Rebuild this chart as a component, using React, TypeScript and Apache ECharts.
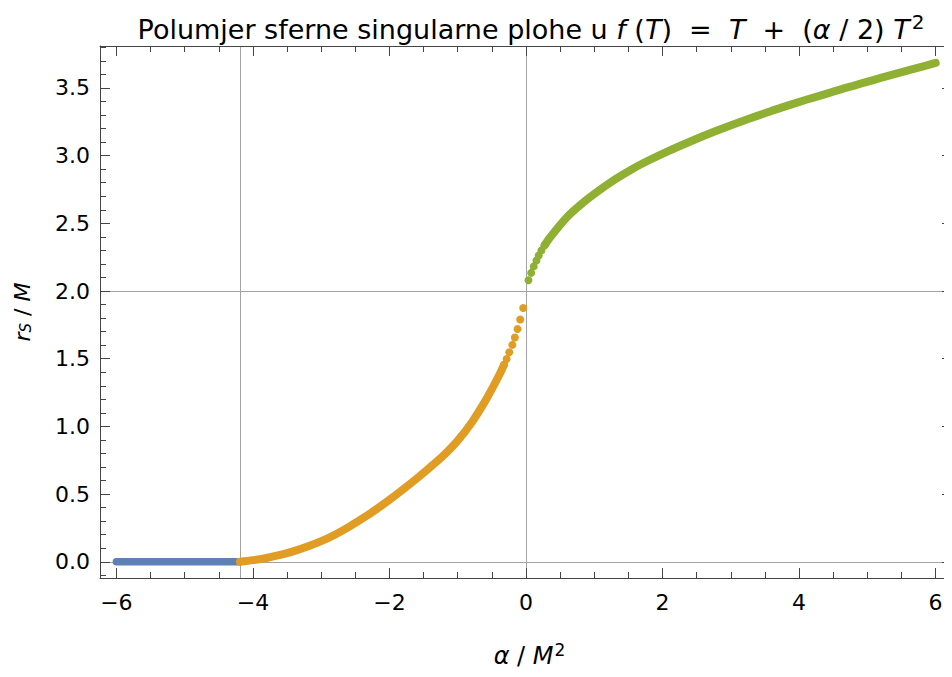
import React, { useEffect, useRef } from "react";
import * as echarts from "echarts";

// ---- data ----
const X_MIN = -6.24;
const X_MAX = 6.24;
const Y_MIN = -0.12;
const Y_MAX = 3.81;

const blueX = [-6, -5.5, -5, -4.5, -4.19];
const blueY = [0, 0, 0, 0, 0];

const orangeLineX = [-4.19, -4.0, -3.8, -3.6, -3.4, -3.2, -3.0, -2.8, -2.6, -2.4, -2.2, -2.0, -1.8, -1.6, -1.4, -1.2, -1.0, -0.8, -0.6, -0.5, -0.4, -0.36, -0.323];
const orangeLineY = [0, 0.012, 0.028, 0.05, 0.078, 0.112, 0.152, 0.2, 0.256, 0.318, 0.385, 0.458, 0.535, 0.615, 0.7, 0.79, 0.895, 1.025, 1.185, 1.275, 1.372, 1.413, 1.454];

const orangeDotX = [-0.041, -0.085, -0.124, -0.163, -0.2, -0.245, -0.284, -0.323];
const orangeDotY = [1.875, 1.789, 1.72, 1.656, 1.602, 1.548, 1.498, 1.454];

const greenDotX = [0.036, 0.076, 0.113, 0.153, 0.186, 0.225, 0.273];
const greenDotY = [2.079, 2.134, 2.182, 2.225, 2.263, 2.3, 2.338];

const greenLineX = [0.273, 0.346, 0.589, 0.832, 1.074, 1.316, 1.559, 1.8, 2.044, 2.287, 2.528, 2.771, 3.014, 3.255, 3.498, 3.741, 3.983, 4.225, 4.468, 4.71, 4.953, 5.196, 5.437, 5.68, 6.0];
const greenLineY = [2.338, 2.392, 2.54, 2.651, 2.744, 2.828, 2.902, 2.966, 3.025, 3.079, 3.13, 3.18, 3.227, 3.271, 3.313, 3.355, 3.394, 3.431, 3.468, 3.505, 3.539, 3.574, 3.607, 3.641, 3.685];

const gridXValues = [-4.19, 0];
const gridYValues = [0, 2];

const BLUE = "#5E81B5";
const ORANGE = "#E19C24";
const GREEN = "#8FB032";
const FRAME = "#444";
const GRID = "#a3a3a3";
const FONT = "DejaVu Sans";

const zip = (xs: number[], ys: number[]) => xs.map((x, i) => [x, ys[i]]);
const minus = (s: string) => s.replace("-", "\u2212");

export default function App() {
  const ref = useRef<HTMLDivElement>(null);
  useEffect(() => {
    if (!ref.current) return;
    const chart = echarts.init(ref.current, null, { renderer: "svg" });

    const axisCommon = {
      type: "value" as const,
      axisLine: { show: true, onZero: false, lineStyle: { color: FRAME, width: 1 } },
      axisTick: { show: true, inside: true, length: 10, lineStyle: { color: FRAME, width: 1 } },
      minorTick: { show: true, length: 6, lineStyle: { color: FRAME, width: 1 } },
      splitLine: { show: false },
      minorSplitLine: { show: false },
      z: 5,
    };

    const xAxisBase = {
      ...axisCommon,
      min: X_MIN,
      max: X_MAX,
      minInterval: 2,
      maxInterval: 2,
      minorTick: { ...axisCommon.minorTick, splitNumber: 4 },
    };
    const yAxisBase = {
      ...axisCommon,
      min: Y_MIN,
      max: Y_MAX,
      minInterval: 0.5,
      maxInterval: 0.5,
      minorTick: { ...axisCommon.minorTick, splitNumber: 5 },
    };

    const dotStyle = (c: string) => ({ color: c, opacity: 1 });

    const option: any = {
      animation: false,
      grid: { left: 100, top: 46, right: -6.7, bottom: 99, containLabel: false },
      xAxis: [
        {
          ...xAxisBase,
          position: "bottom",
          axisLabel: {
            show: true,
            margin: 13,
            fontSize: 22,
            fontFamily: FONT,
            color: "#000",
            showMinLabel: false,
            showMaxLabel: false,
            formatter: (v: number) => minus(String(Math.round(v))),
          },
        },
        { ...xAxisBase, position: "top", axisLabel: { show: false } },
      ],
      yAxis: [
        {
          ...yAxisBase,
          position: "left",
          axisLabel: {
            show: true,
            margin: 10,
            fontSize: 22,
            fontFamily: FONT,
            color: "#000",
            showMinLabel: false,
            showMaxLabel: false,
            formatter: (v: number) => minus(v.toFixed(1)),
          },
        },
        { ...yAxisBase, position: "right", axisLabel: { show: false } },
      ],
      series: [
        {
          type: "line",
          z: 1,
          data: [],
          silent: true,
          markLine: {
            z: 1,
            silent: true,
            symbol: ["none", "none"],
            label: { show: false },
            emphasis: { disabled: true },
            lineStyle: { color: GRID, width: 1, type: "solid" },
            data: [
              ...gridXValues.map((v) => ({ xAxis: v })),
              ...gridYValues.map((v) => ({ yAxis: v })),
            ],
          },
        },
        {
          type: "line",
          z: 3,
          data: zip(blueX, blueY),
          showSymbol: false,
          lineStyle: { color: BLUE, width: 7.5, cap: "round", join: "round" },
        },
        {
          type: "line",
          z: 3,
          data: zip(orangeLineX, orangeLineY),
          showSymbol: false,
          smooth: 0.3,
          lineStyle: { color: ORANGE, width: 8, cap: "round", join: "round" },
        },
        {
          type: "scatter",
          z: 3,
          data: zip(orangeDotX, orangeDotY),
          symbol: "circle",
          symbolSize: 8,
          itemStyle: dotStyle(ORANGE),
        },
        {
          type: "scatter",
          z: 3,
          data: zip(greenDotX, greenDotY),
          symbol: "circle",
          symbolSize: 8,
          itemStyle: dotStyle(GREEN),
        },
        {
          type: "line",
          z: 3,
          data: zip(greenLineX, greenLineY),
          showSymbol: false,
          smooth: 0.3,
          lineStyle: { color: GREEN, width: 8, cap: "round", join: "round" },
        },
      ],
      graphic: [
        {
          type: "text",
          x: 531,
          y: 29,
          style: {
            text: "{n|Polumjer sferne singularne plohe u }{i|f}{n| (}{i|T}{n|)  =  }{i|T}{n|  +  (}{i|α}{n| / 2) }{i|T}{s|2}",
            align: "center",
            verticalAlign: "middle",
            fill: "#000",
            rich: {
              n: { fontFamily: FONT, fontSize: 27, fill: "#000" },
              i: { fontFamily: FONT, fontSize: 27, fontStyle: "italic", fill: "#000" },
              s: { fontFamily: FONT, fontSize: 20, fill: "#000", verticalAlign: "top", padding: [0, 0, 14, 2] },
            },
          },
        },
        {
          type: "text",
          x: 529.5,
          y: 656,
          style: {
            text: "{i|α}{n| / }{i|M}{s|2}",
            align: "center",
            verticalAlign: "middle",
            fill: "#000",
            rich: {
              n: { fontFamily: FONT, fontSize: 24, fill: "#000" },
              i: { fontFamily: FONT, fontSize: 24, fontStyle: "italic", fill: "#000" },
              s: { fontFamily: FONT, fontSize: 17, fill: "#000", verticalAlign: "top", padding: [0, 0, 12, 1] },
            },
          },
        },
        {
          type: "text",
          x: 22,
          y: 312,
          rotation: Math.PI / 2,
          style: {
            text: "{i|r}{b|S}{n| / }{i|M}",
            align: "center",
            verticalAlign: "middle",
            fill: "#000",
            rich: {
              n: { fontFamily: FONT, fontSize: 22, fill: "#000" },
              i: { fontFamily: FONT, fontSize: 22, fontStyle: "italic", fill: "#000" },
              b: { fontFamily: FONT, fontSize: 15, fontStyle: "italic", fill: "#000", verticalAlign: "bottom", padding: [8, 0, 0, 0] },
            },
          },
        },
      ],
    };

    chart.setOption(option);
    return () => chart.dispose();
  }, []);

  return <div ref={ref} style={{ width: 952, height: 677, margin: -8 }} />;
}
